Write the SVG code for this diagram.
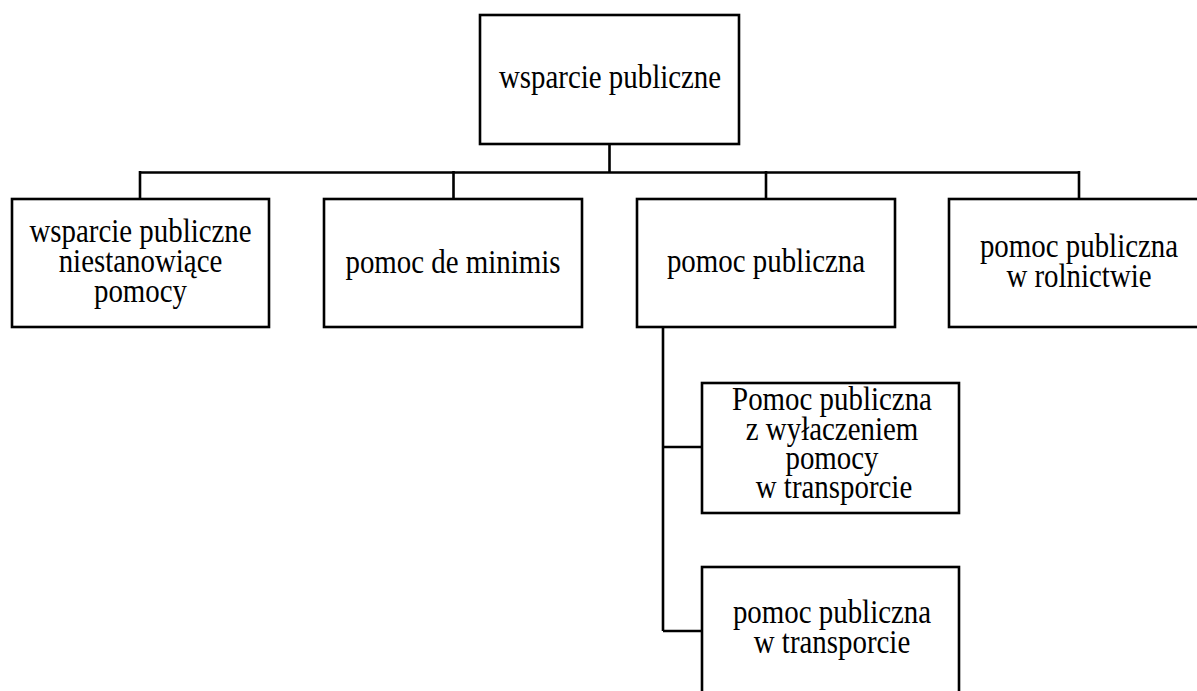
<svg xmlns="http://www.w3.org/2000/svg" width="1197" height="691" viewBox="0 0 1197 691">
<style>
.box{fill:#fff;stroke:#000;stroke-width:2.6}
.ln{fill:none;stroke:#000;stroke-width:2.6}
text{font-family:"Liberation Serif","Times New Roman",serif;font-size:34px;fill:#000;text-anchor:middle}
</style>
<rect width="1197" height="691" fill="#fff"/>
<g id="connectors">
<path class="ln" d="M609.5 144V172.5M140 172.5H1079M140 171V199M453.5 171V199M766 171V199M1079 171V199"/>
<path class="ln" d="M663 327V631M663 447H702M663 631H702"/>
</g>
<g id="n-root">
<rect class="box" x="480" y="15" width="259" height="129"/>
<text transform="matrix(0.85 0 0 1 610 88)">wsparcie publiczne</text>
</g>
<g id="n-niestanowiace">
<rect class="box" x="12" y="199" width="257" height="128"/>
<text transform="matrix(0.85 0 0 1 140.5 242)">wsparcie publiczne</text>
<text transform="matrix(0.85 0 0 1 140.5 272)">niestanowiące</text>
<text transform="matrix(0.85 0 0 1 140.5 302)">pomocy</text>
</g>
<g id="n-deminimis">
<rect class="box" x="324" y="199" width="258" height="128"/>
<text transform="matrix(0.85 0 0 1 453 273)">pomoc de minimis</text>
</g>
<g id="n-pomoc">
<rect class="box" x="637" y="199" width="258" height="128"/>
<text transform="matrix(0.85 0 0 1 766 272)">pomoc publiczna</text>
</g>
<g id="n-rolnictwo">
<rect class="box" x="949" y="199" width="259" height="128"/>
<text transform="matrix(0.85 0 0 1 1079 257)">pomoc publiczna</text>
<text transform="matrix(0.85 0 0 1 1079 287)">w rolnictwie</text>
</g>
<g id="n-wylaczenie">
<rect class="box" x="702" y="383" width="257" height="130"/>
<text transform="matrix(0.85 0 0 1 832 410)">Pomoc publiczna</text>
<text transform="matrix(0.85 0 0 1 832 440)">z wyłaczeniem</text>
<text transform="matrix(0.85 0 0 1 832 469)">pomocy</text>
<text transform="matrix(0.85 0 0 1 834 498)">w transporcie</text>
</g>
<g id="n-transport">
<rect class="box" x="702" y="567" width="257" height="130"/>
<text transform="matrix(0.85 0 0 1 832 623)">pomoc publiczna</text>
<text transform="matrix(0.85 0 0 1 832 653)">w transporcie</text>
</g>
</svg>
